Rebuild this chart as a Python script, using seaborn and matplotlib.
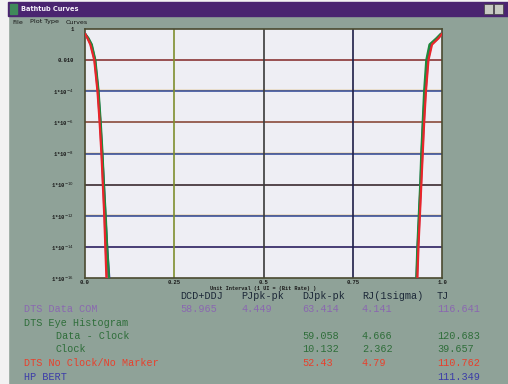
import pandas as pd
import matplotlib
matplotlib.use("Agg")
import matplotlib.pyplot as plt
from matplotlib.patches import Rectangle
import seaborn as sns

# bit error rate levels
ber = [0.5, 0.25, 0.1, 1e-2, 1e-4, 1e-6, 1e-8, 1e-10, 1e-12, 1e-14, 1e-16]

# left wall of the bathtub, x in unit intervals
left_red = [0.0, 0.007, 0.015, 0.026, 0.035, 0.041, 0.046, 0.050, 0.054, 0.057, 0.060]
left_green = [0.0, 0.010, 0.019, 0.029, 0.038, 0.044, 0.049, 0.053, 0.058, 0.062, 0.067]
left_blue = [0.0, 0.009, 0.018, 0.028, 0.037, 0.043, 0.048, 0.053, 0.057, 0.062, 0.068]
left_magenta = [0.0, 0.008, 0.016, 0.027, 0.036, 0.042, 0.047, 0.051, 0.055, 0.058, 0.062]

# right wall
right_red = [1.0, 0.990, 0.972, 0.962, 0.955, 0.950, 0.946, 0.942, 0.938, 0.934, 0.931]
right_green = [0.997, 0.984, 0.965, 0.956, 0.950, 0.946, 0.942, 0.939, 0.935, 0.931, 0.928]
right_blue = [0.998, 0.986, 0.967, 0.958, 0.952, 0.947, 0.943, 0.940, 0.936, 0.932, 0.929]
right_magenta = [1.0, 0.989, 0.970, 0.961, 0.954, 0.949, 0.945, 0.941, 0.937, 0.933, 0.930]

curve_names = ["magenta", "blue", "green", "red"]
curve_colors = ["#c04aa0", "#2a3c9c", "#1f8a3c", "#e8262a"]

x_ticks = [0.0, 0.25, 0.5, 0.75, 1.0]
x_ticklabels = ["0.0", "0.25", "0.5", "0.75", "1.0"]
y_ticks = [1, 1e-2, 1e-4, 1e-6, 1e-8, 1e-10, 1e-12, 1e-14, 1e-16]
y_ticklabels = ["1", "0.010"] + [r"1*10$^{-%d}$" % k for k in range(4, 17, 2)]
x_label = "Unit Interval (1 UI = (Bit Rate) )"

# result table below the plot
headers = ["DCD+DDJ", "PJpk-pk", "DJpk-pk", "RJ(1sigma)", "TJ"]
row_labels = ["DTS Data COM", "DTS Eye Histogram", "Data - Clock", "Clock",
              "DTS No Clock/No Marker", "HP BERT"]
col_dcd = ["58.965", "", "", "", "", ""]
col_pj = ["4.449", "", "", "", "", ""]
col_dj = ["63.414", "", "59.058", "10.132", "52.43", ""]
col_rj = ["4.141", "", "4.666", "2.362", "4.79", ""]
col_tj = ["116.641", "", "120.683", "39.657", "110.762", "111.349"]
row_colors = ["#8a68b0", "#2f6e3a", "#2f6e3a", "#2f6e3a", "#e8402c", "#3c3ca8"]

lefts = {"red": left_red, "green": left_green, "blue": left_blue, "magenta": left_magenta}
rights = {"red": right_red, "green": right_green, "blue": right_blue, "magenta": right_magenta}
rows = []
for name in curve_names:
    for xv, bv in zip(lefts[name], ber):
        rows.append({"x": xv, "ber": bv, "curve": name, "side": "L"})
    for xv, bv in zip(rights[name], ber):
        rows.append({"x": xv, "ber": bv, "curve": name, "side": "R"})
df = pd.DataFrame(rows)

W, H = 508, 384
BG = "#8fa298"


def fx(x):
    return x / W


def fy(y):
    return 1 - y / H


sns.set_style("white")
plt.rcParams['font.family'] = ['Liberation Mono', 'DejaVu Sans']

fig = plt.figure(figsize=(W / 100, H / 100), dpi=100, facecolor=BG)

# page strip, title bar and window buttons
fig.patches.append(Rectangle((0, 0), fx(8), 1, transform=fig.transFigure, color="#f2f2f2", zorder=0))
fig.patches.append(Rectangle((0, fy(2)), 1, fx(2), transform=fig.transFigure, color="#f2f2f2", zorder=0))
fig.patches.append(Rectangle((fx(8), fy(16)), 1, 14 / H, transform=fig.transFigure,
                             color="#4a2470", zorder=1))
fig.patches.append(Rectangle((fx(10), fy(14)), fx(7), 10 / H, transform=fig.transFigure,
                             color="#3f8a5a", zorder=2))
for bx in [484, 494]:
    fig.patches.append(Rectangle((fx(bx), fy(14)), fx(9), 10 / H, transform=fig.transFigure,
                                 facecolor="#c8cac4", edgecolor="#404040", lw=0.5, zorder=2))
fig.text(fx(21), fy(9), "Bathtub Curves", color="#f4f0f8", fontsize=4.8, fontweight="bold",
         va="center", family=["DejaVu Sans"])
for mx, mtxt in zip([12, 30, 66], ["File", "Plot Type", "Curves"]):
    fig.text(fx(mx), fy(22), mtxt, color="#151515", fontsize=4.6, va="center", family=["DejaVu Sans"])

ax = fig.add_axes([fx(85), fy(278), 357 / W, 249 / H])
ax.set_facecolor("#eeeef4")

# reference lines inside the plot
hline_colors = ["#8a3434", "#3c55a5", "#8a4a3a", "#3c55a5", "#3a2a30", "#3c55a5", "#2c2060"]
for yv, col in zip(y_ticks[1:-1], hline_colors):
    if col == "#3c55a5":
        ax.axhline(yv * 1.15, color="#d09a2c", lw=1.0, zorder=1)
    ax.axhline(yv, color=col, lw=1.2, zorder=1)
vline_colors = ["#7f8e2e", "#3a3a3a", "#1e1e48"]
for xv, col in zip(x_ticks[1:-1], vline_colors):
    ax.axvline(xv, color=col, lw=1.2, zorder=1)

sns.lineplot(data=df, x="x", y="ber", hue="curve", units="side", estimator=None, sort=False,
             palette=dict(zip(curve_names, curve_colors)), hue_order=curve_names,
             lw=1.6, legend=False, ax=ax, zorder=3)

ax.set_yscale("log")
ax.set_xlim(0, 1)
ax.set_ylim(1e-16, 1)
ax.set_xticks(x_ticks)
ax.set_xticklabels(x_ticklabels, fontsize=4, fontweight="bold", color="#1a1a1a")
ax.set_yticks(y_ticks)
ax.set_yticklabels(y_ticklabels, fontsize=4, fontweight="bold", color="#1a1a1a")
ax.minorticks_off()
ax.tick_params(length=0, pad=1.5)
ax.tick_params(axis="y", pad=8)
ax.set_xlabel(x_label, fontsize=3.8, fontweight="bold", color="#1a1a1a", labelpad=0.5)
ax.set_ylabel("")
for sp in ax.spines.values():
    sp.set_color("#4a4a30")
    sp.set_linewidth(1.2)

# table
fs = 7.3
col_x = [180, 241, 302, 362, 437]
for cx, htxt in zip(col_x, headers):
    fig.text(fx(cx), fy(296), htxt, color="#1c2838", fontsize=fs, va="center")
row_y = [309, 323, 336, 349, 363, 377]
label_x = [24, 24, 56, 56, 24, 24]
cols = [col_dcd, col_pj, col_dj, col_rj, col_tj]
for i, lab in enumerate(row_labels):
    fig.text(fx(label_x[i]), fy(row_y[i]), lab, color=row_colors[i], fontsize=fs, va="center")
    for cx, col in zip(col_x, cols):
        if col[i]:
            fig.text(fx(cx), fy(row_y[i]), col[i], color=row_colors[i], fontsize=fs, va="center")

fig.savefig("out.png", dpi=100, facecolor=BG)
